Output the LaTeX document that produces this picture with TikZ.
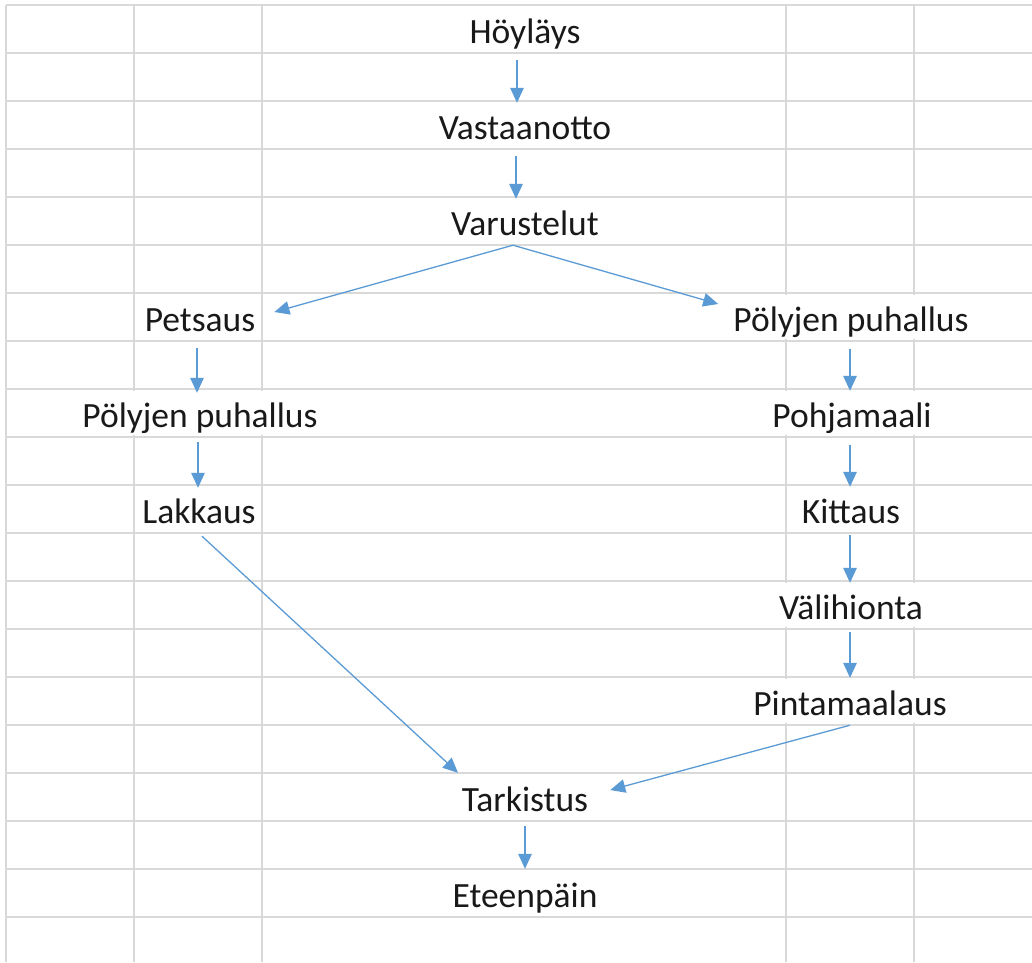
\documentclass[tikz,border=0pt]{standalone}
\usepackage{fontspec}
\setmainfont{Carlito}
\usetikzlibrary{arrows.meta}
\definecolor{gridgray}{RGB}{217,217,217}
\definecolor{flowblue}{RGB}{91,155,213}
\tikzset{
  cell/.style={inner xsep=0pt, inner ysep=6pt, text height=32pt, text depth=4pt,
    font=\fontsize{35.5}{42}\selectfont, text=black!90},
  flow/.style={draw=flowblue, line width=1.3pt,
    -{Triangle[length=15pt,width=13.5pt]}},
  gridline/.style={draw=gridgray, line width=1.4pt}
}
\begin{document}
\begin{tikzpicture}[x=1pt,y=-1pt]
\useasboundingbox (0,0) rectangle (1032,962);
\fill[white] (0,0) rectangle (1032,962);

% sheet columns
\foreach \x in {6,134,262,786,914}
  \draw[gridline] (\x,5) -- (\x,962);
% borders hidden under overflowing cell text
\fill[white] (128,391) rectangle (268,435);
\foreach \r in {293,389,581,677}
  \fill[white] (780,\r+2) rectangle (920,\r+46);
% sheet rows
\foreach \k in {0,...,19}
  \draw[gridline] (6,5+48*\k) -- (1032,5+48*\k);

% cells
\node[cell] (hoy)   at (525,29)  {Höyläys};
\node[cell] (vast)  at (525,125) {Vastaanotto};
\node[cell] (varu)  at (525,221) {Varustelut};
\node[cell] (pets)  at (200,317) {Petsaus};
\node[cell] (polyR) at (851,317) {Pölyjen puhallus};
\node[cell] (polyL) at (200,413) {Pölyjen puhallus};
\node[cell] (pohja) at (852,413) {Pohjamaali};
\node[cell] (lakk)  at (199,509) {Lakkaus};
\node[cell] (kitt)  at (851,509) {Kittaus};
\node[cell] (vali)  at (851,605) {Välihionta};
\node[cell] (pinta) at (850,701) {Pintamaalaus};
\node[cell] (tark)  at (525,797) {Tarkistus};
\node[cell] (ete)   at (525,893) {Eteenpäin};

% flow arrows
\draw[flow] ([xshift=-8pt,yshift=-7pt]hoy.south) -- ([xshift=-8pt,yshift=-2pt]vast.north);
\draw[flow] ([xshift=-9pt,yshift=-7pt]vast.south) -- ([xshift=-9pt,yshift=-2pt]varu.north);
\draw[flow] ([xshift=-12pt]varu.south) -- ([xshift=19pt,yshift=5pt]pets.east);
\draw[flow] ([xshift=-12pt]varu.south) -- ([xshift=-15pt,yshift=13pt]polyR.west);
\draw[flow] ([xshift=-3pt,yshift=-7pt]pets.south) -- ([xshift=-3pt,yshift=-4pt]polyL.north);
\draw[flow] ([xshift=-2pt,yshift=-5pt]polyL.south) -- ([xshift=-1pt,yshift=-3pt]lakk.north);
\draw[flow] ([xshift=3pt,yshift=-3pt]lakk.south) -- ([xshift=-67pt]tark.north);
\draw[flow] ([xshift=-1pt,yshift=-8pt]polyR.south) -- ([xshift=-2pt,yshift=-2pt]pohja.north);
\draw[flow] ([xshift=-2pt,yshift=-8pt]pohja.south) -- ([xshift=-1pt,yshift=-2pt]kitt.north);
\draw[flow] ([xshift=-1pt,yshift=-2pt]kitt.south) -- ([xshift=-1pt,yshift=-2pt]vali.north);
\draw[flow] ([xshift=-1pt,yshift=-3pt]vali.south) -- ([yshift=-1pt]pinta.north);
\draw[flow] (pinta.south) -- ([xshift=22pt,yshift=7pt]tark.east);
\draw[flow] ([yshift=-5pt]tark.south) -- (ete.north);
\end{tikzpicture}
\end{document}
